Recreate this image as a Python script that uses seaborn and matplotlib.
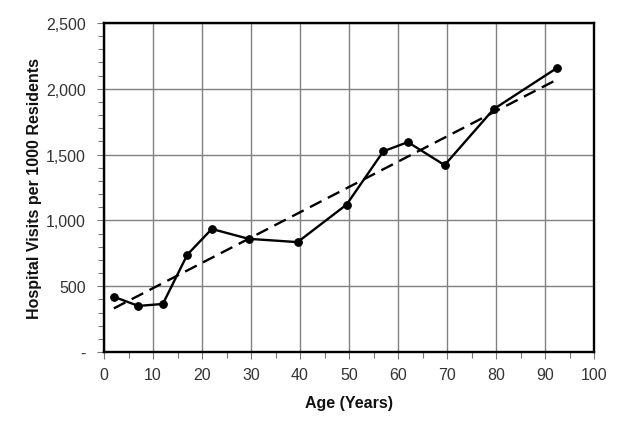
#hospital visits per 1000 residents by age, with a linear trend line
import matplotlib.pyplot as plt
import matplotlib.ticker as mticker
import seaborn as sns
import numpy as np
import pandas as pd

sns.set_theme(style="white")
plt.rcParams['font.family'] = ['Liberation Sans', 'DejaVu Sans']

#values
age = [2, 7, 12, 17, 22, 29.5, 39.5, 49.5, 57, 62, 69.5, 79.5, 92.5]
visits = [420, 350, 365, 740, 935, 860, 835, 1120, 1525, 1595, 1420, 1845, 2160]

df = pd.DataFrame({"age": age, "visits": visits})

fig = plt.figure(figsize=(6.24, 4.27), dpi=100)
ax = fig.add_axes([0.1667, 0.1733, 0.7853, 0.7705])

#trend line (least squares fit of the data)
sns.regplot(x="age", y="visits", data=df, ci=None, scatter=False, truncate=True,
            line_kws={"color": "black", "lw": 1.7, "ls": (0, (5.5, 3))}, ax=ax)
#observed values
sns.lineplot(x="age", y="visits", data=df, color="black", lw=1.7, marker="o",
             markersize=5.5, markeredgecolor="black", ax=ax)

ax.set_xlim(0, 100)
ax.set_ylim(0, 2500)
ax.xaxis.set_major_locator(mticker.MultipleLocator(10))
ax.xaxis.set_minor_locator(mticker.MultipleLocator(5))
ax.yaxis.set_major_locator(mticker.MultipleLocator(500))
ax.yaxis.set_minor_locator(mticker.MultipleLocator(100))
ax.yaxis.set_major_formatter(mticker.FuncFormatter(lambda v, p: "-" if v == 0 else "{:,.0f}".format(v)))

ax.grid(True, which="major", color="#808080", lw=1.0)
for s in ax.spines.values():
    s.set_color("black")
    s.set_linewidth(1.7)

ax.tick_params(which="both", direction="out", color="#777777", labelcolor="#333333", labelsize=11.5)
ax.tick_params(which="major", length=5, width=0.8, bottom=True, left=True)
ax.tick_params(which="minor", length=4, width=0.8, bottom=True, left=True)
ax.tick_params(axis="x", pad=6)
ax.tick_params(axis="y", pad=8)

ax.set_xlabel("Age (Years)", fontsize=11.5, fontweight="bold", color="#111111", labelpad=9)
ax.set_ylabel("Hospital Visits per 1000 Residents", fontsize=11.5, fontweight="bold", color="#111111", labelpad=3)

fig.savefig("out.png", dpi=100, facecolor="white")
